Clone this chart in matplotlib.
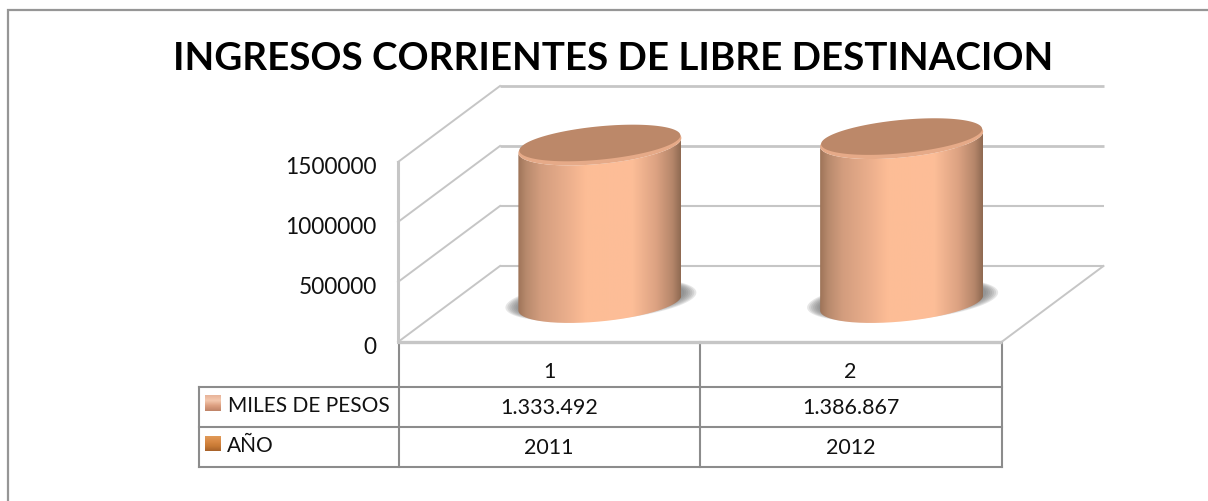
import numpy as np
import matplotlib
matplotlib.use("Agg")
import matplotlib.pyplot as plt
from matplotlib.colors import LinearSegmentedColormap
from matplotlib.patches import PathPatch, Polygon
from matplotlib.path import Path
from matplotlib.transforms import ScaledTranslation

TITLE = "INGRESOS CORRIENTES DE LIBRE DESTINACION"
categories = [1, 2]
values = [1333492, 1386867]
value_labels = ["1.333.492", "1.386.867"]
years = ["2011", "2012"]
row_names = ["MILES DE PESOS", "AÑO"]
y_ticks = [0, 500000, 1000000, 1500000]

W, H = 1208, 501
FONT = "Lato"
GRID = "#c6c6c6"
TABLE = "#8c8c8c"
plt.rcParams["font.family"] = [FONT, "DejaVu Sans"]
fig = plt.figure(figsize=(W / 100, H / 100), dpi=100, facecolor="white")

# pixel-space layer: frame, table, title
bg = fig.add_axes([0, 0, 1, 1], zorder=1)
bg.set_xlim(0, W)
bg.set_ylim(H, 0)
bg.axis("off")
bg.plot([7.5, 7.5, W], [H, 10, 10], color="#969696", lw=1.6, solid_joinstyle="miter")
bg.text(613, 58.5, TITLE, fontsize=27.7, fontweight="bold", ha="center", va="center", color="black")

# table
xs = [199, 398.5, 699.5, 1001.5]
ys = [386.5, 426.5, 467]
for y in ys:
    bg.plot([xs[0], xs[-1]], [y, y], color=TABLE, lw=1.5)
bg.plot([xs[0]] * 2, [ys[0], ys[-1]], color=TABLE, lw=1.5)
for x in xs[1:]:
    bg.plot([x, x], [342, ys[-1]], color=TABLE, lw=1.5)
centers = [(xs[1] + xs[2]) / 2, (xs[2] + xs[3]) / 2]
for c, cat, v, yr in zip(centers, categories, value_labels, years):
    bg.text(c, 372, str(cat), ha="center", va="center", fontsize=15.5, color="#111111")
    bg.text(c, 407.5, v, ha="center", va="center", fontsize=15.5, color="#111111")
    bg.text(c, 448.5, yr, ha="center", va="center", fontsize=15.5, color="#111111")
bg.text(228, 406, row_names[0], ha="left", va="center", fontsize=15, color="#111111")
bg.text(227, 446, row_names[1], ha="left", va="center", fontsize=15, color="#111111")
sw1 = LinearSegmentedColormap.from_list("s1", ["#e8b49a", "#f4c8ae", "#dc9f80", "#c08468"])
sw2 = LinearSegmentedColormap.from_list("s2", ["#e09a58", "#d98a45", "#c87a35", "#a8622a"])
grad = np.linspace(0, 1, 32).reshape(-1, 1)
bg.imshow(grad, cmap=sw1, extent=(205, 221, 411, 395), aspect="auto", zorder=3)
bg.imshow(grad, cmap=sw2, extent=(205, 221, 451, 436), aspect="auto", zorder=3)
bg.set_xlim(0, W)
bg.set_ylim(H, 0)

# value layer: the front plane of the 3D box
L, R, T, B = 398.0, 1001.5, 162.0, 342.0
ax = fig.add_axes([L / W, 1 - B / H, (R - L) / W, (B - T) / H], zorder=2)
ax.patch.set_alpha(0)
ax.set_xlim(0.5, 2.5)
ax.set_ylim(0, 1500000)
for s in ax.spines.values():
    s.set_visible(False)
ax.set_xticks([])
ax.set_yticks(y_ticks)
ax.set_yticklabels([str(t) for t in y_ticks], fontsize=16.3, color="#111111")
ax.tick_params(axis="y", length=0, pad=15.5)
shift = ScaledTranslation(0, -2.5 / 72, fig.dpi_scale_trans)
for lab in ax.get_yticklabels():
    lab.set_transform(lab.get_transform() + shift)

ux = 2.0 / (R - L)      # category units per pixel
uy = 1500000 / (B - T)  # value units per pixel
dx, dy = 102 * ux, 76 * uy  # depth of the box
x0, x1 = 0.5, 2.5

for t in y_ticks:
    ax.plot([x0, x0 + dx], [t, t + dy], color=GRID, lw=1.4, clip_on=False, zorder=1)
    ax.plot([x0 + dx, x1 + dx], [t + dy, t + dy], color=GRID, lw=2.0 if t in (1000000, 1500000) else 1.5,
            clip_on=False, zorder=1, solid_capstyle="butt")
ax.plot([x0, x0], [0, 1500000], color=GRID, lw=2.2, clip_on=False, zorder=1)
ax.plot([x0, x1], [0, 0], color=GRID, lw=2.4, clip_on=False, zorder=1, solid_capstyle="butt")
ax.plot([x1, x1 + dx], [0, dy], color=GRID, lw=1.4, clip_on=False, zorder=1)

# cylinders
body_cm = LinearSegmentedColormap.from_list("body", [
    (0.0, "#9e7459"), (0.05, "#b88a6d"), (0.14, "#d39d7e"), (0.30, "#eaae8c"),
    (0.42, "#fdbd96"), (0.70, "#fdbe98"), (0.85, "#dca282"), (0.95, "#b5866a"), (1.0, "#8f6a52")])
rx, ry, tilt = 81.5 * ux, 18.5 * uy, 7.5 * uy
off_x, off_y = 51 * ux, 39 * uy
top_inset = 2.5 * uy
tt = np.linspace(0, 2 * np.pi, 181)


def ellipse(cx, cy, a=rx, b=ry, s=tilt, t=tt):
    return np.column_stack([cx + a * np.cos(t), cy + s * np.cos(t) + b * np.sin(t)])


for cat, val in zip(categories, values):
    cx, base = cat + off_x, off_y
    top = base + val - top_inset
    # soft contact shadow
    for k in range(7):
        a = rx + (14 - 2.0 * k) * ux
        b = ry + (2.0 - 0.6 * k) * uy
        ax.add_patch(Polygon(ellipse(cx + 1 * ux, base + 3 * uy, a=a, b=b), closed=True, fc="#6f6f6f",
                             ec="none", alpha=0.17, clip_on=False, zorder=2))
    # body: front half of bottom ellipse, back along front half of top ellipse
    front = np.linspace(np.pi, 2 * np.pi, 90)
    low = ellipse(cx, base, t=front)
    up = ellipse(cx, top, t=front)[::-1]
    pts = np.vstack([low, up, low[:1]])
    clip = PathPatch(Path(pts), fc="none", ec="none", transform=ax.transData)
    ax.add_patch(clip)
    im = ax.imshow(np.linspace(0, 1, 256).reshape(1, -1), cmap=body_cm, aspect="auto",
                   extent=(cx - rx, cx + rx, base - ry - tilt, top + ry + tilt), zorder=3)
    im.set_clip_path(clip)
    im.set_clip_box(fig.bbox)
    # top face with pale rim on the front
    ax.add_patch(Polygon(ellipse(cx, top), closed=True, fc="#e6aa88", ec="none", clip_on=False, zorder=4))
    ax.add_patch(Polygon(ellipse(cx, top + 2.5 * uy, a=rx - 1 * ux, b=ry - 1.8 * uy), closed=True,
                         fc="#bc8869", ec="none", clip_on=False, zorder=5))
ax.set_xlim(0.5, 2.5)
ax.set_ylim(0, 1500000)

fig.savefig("out.png", dpi=100, facecolor="white")
